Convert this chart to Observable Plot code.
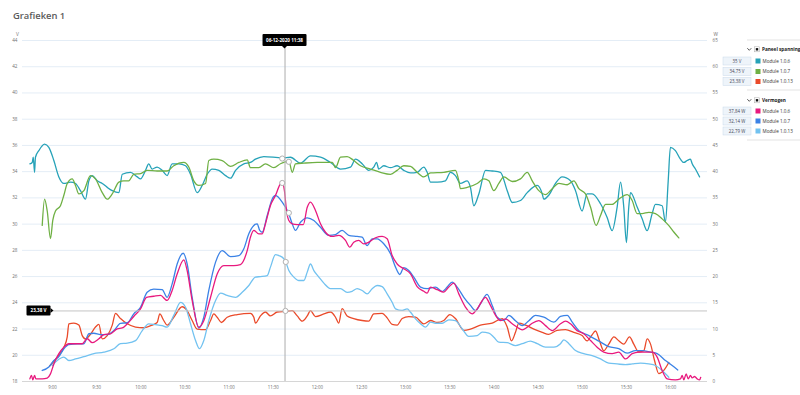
<!DOCTYPE html>
<html><head><meta charset="utf-8">
<script src="https://cdn.jsdelivr.net/npm/d3@7"></script>
<script src="https://cdn.jsdelivr.net/npm/@observablehq/plot@0.6"></script>
<style>
body{margin:0;background:#fff;font-family:"Open Sans",sans-serif;}
#wrap{position:relative;width:800px;height:395px;overflow:hidden;}
#wrap svg{position:absolute;left:0;top:0;}
</style></head><body><div id="wrap"></div>
<script>
// ---- data (time in minutes after midnight, 06-12-2020) ----
const chartTitle = "Grafieken 1";
const moduleNames = ["Module 1.0.6", "Module 1.0.7", "Module 1.0.13"];
const groupNames = ["Paneel spanning", "Vermogen"];
const timeTicks = ["9:00","9:30","10:00","10:30","11:00","11:30","12:00","12:30","13:00","13:30","14:00","14:30","15:00","15:30","16:00"];
const vTicks = [18,20,22,24,26,28,30,32,34,36,38,40,42,44];
const wTicks = [0,5,10,15,20,25,30,35,40,45,50,55,60,65];

// Paneel spanning (V)
const spanning106 = [[524.6,34.6],[526.2,34.7],[526.9,35.1],[527.8,33.95],[528.4,35.1],[530.7,35.6],[534.6,36.1],[537.5,35.85],[540.9,34.85],[544.3,33.6],[547.7,33.1],[552.2,33.2],[555.6,33.1],[559.0,32.55],[562.4,31.9],[564.7,33.3],[567.0,33.7],[570.4,33.3],[573.8,33.1],[577.2,32.8],[580.6,32.55],[585.1,32.4],[587.4,33.8],[593.0,33.95],[597.6,33.6],[599.8,33.45],[603.2,34.1],[605.4,34.6],[607.7,34.2],[611.1,34.35],[614.5,34.1],[617.9,33.7],[621.3,34.6],[625.8,34.6],[630.4,34.45],[633.8,33.8],[638.3,32.4],[641.7,32.95],[645.1,33.8],[648.5,34.2],[653.0,34.1],[657.6,33.7],[661.0,33.5],[664.4,34.1],[670.0,34.6],[674.5,34.7],[677.9,34.95],[683.6,35.15],[696.1,35.05],[701.7,35.1],[708.5,34.65],[715.3,35.2],[722.1,35.1],[728.9,34.7],[735.7,34.2],[742.5,34.35],[745.9,34.95],[750.4,34.6],[754.9,34.1],[758.3,34.35],[760.2,34.7],[761.7,34.2],[765.1,34.45],[769.7,34.3],[774.2,34.45],[778.7,34.1],[783.3,33.9],[787.8,33.95],[792.3,34.35],[794.6,33.95],[796.9,33.2],[801.4,33.2],[807.0,33.3],[810.4,33.95],[813.8,33.7],[817.2,33.1],[821.8,33.3],[824.0,32.8],[826.3,31.4],[829.7,32.3],[834.3,34.1],[838.8,34.05],[844.4,33.95],[849.0,32.55],[852.4,31.65],[858.0,31.8],[862.6,32.4],[869.4,32.95],[872.8,32.3],[873.8,31.9],[877.2,32.2],[881.8,33.1],[886.3,33.6],[892.0,33.3],[895.4,32.55],[899.9,31.0],[903.3,32.3],[906.7,32.3],[912.4,31.55],[916.9,30.5],[920.3,29.5],[923.7,31.3],[926.0,33.2],[928.2,31.3],[930.0,28.6],[931.6,31.3],[932.8,32.4],[937.3,31.3],[940.7,30.4],[944.1,29.5],[947.5,30.8],[949.7,31.5],[954.3,31.4],[956.5,30.15],[958.4,33.3],[959.9,35.85],[963.3,35.6],[966.7,34.95],[969.0,34.7],[971.3,34.85],[973.5,34.95],[974.7,34.6],[976.9,34.2],[979.7,33.6]];
const spanning107 = [[533.0,29.9],[534.6,31.9],[536.4,31.0],[538.6,28.9],[540.2,30.3],[542.0,31.0],[545.4,31.4],[547.7,32.2],[550.0,33.1],[553.4,33.45],[555.6,32.95],[557.9,32.3],[561.3,32.55],[565.8,33.7],[569.2,33.45],[573.8,32.4],[577.2,31.9],[580.6,32.3],[585.1,33.2],[588.4,33.3],[591.8,33.3],[595.2,33.8],[599.8,33.85],[604.3,34.1],[611.1,34.05],[617.9,34.05],[622.4,34.45],[629.2,34.7],[632.6,34.35],[636.0,33.3],[639.4,32.95],[644.0,33.1],[646.2,34.85],[649.6,34.95],[655.3,34.85],[661.0,34.4],[666.6,34.7],[672.3,34.9],[674.5,34.3],[680.2,34.3],[684.7,34.6],[690.4,34.3],[694.9,34.6],[700.6,34.8],[702.9,33.95],[705.1,34.6],[710.8,34.65],[719.9,34.7],[730.1,34.7],[732.3,34.3],[735.7,35.1],[740.2,35.15],[744.7,34.85],[749.3,34.45],[756.1,34.2],[762.9,33.95],[769.7,33.8],[774.2,34.1],[778.7,34.45],[783.3,34.4],[787.8,33.95],[792.3,33.6],[796.9,33.9],[805.9,33.95],[813.8,34.1],[816.1,33.3],[817.2,32.7],[821.8,32.8],[828.6,33.1],[833.1,33.45],[836.5,33.3],[839.9,32.55],[843.3,33.1],[846.7,33.6],[852.4,33.25],[858.0,33.45],[862.6,33.95],[866.0,33.3],[870.5,32.55],[875.0,32.25],[879.6,32.7],[884.1,33.1],[889.8,33.0],[894.3,33.3],[897.7,32.7],[902.2,32.3],[905.6,31.3],[909.4,29.9],[912.4,30.65],[915.8,31.5],[920.3,31.5],[924.8,31.9],[930.5,32.25],[933.9,31.8],[937.3,30.8],[940.7,30.8],[945.2,30.9],[949.7,30.8],[954.3,30.4],[958.7,29.9],[962.2,29.4],[965.6,28.95]];
const spanning1013 = [[538.2,19.2],[543.2,19.85],[547.7,20.6],[550.0,21.4],[551.1,22.4],[554.5,22.45],[557.9,22.3],[560.2,21.5],[562.4,21.25],[565.8,21.6],[569.2,22.15],[571.5,22.35],[573.8,21.25],[577.2,21.5],[580.6,22.3],[582.8,23.2],[586.2,22.8],[590.8,22.4],[596.4,22.15],[602.0,22.1],[607.7,22.3],[611.1,22.5],[612.9,23.15],[615.6,22.65],[617.9,22.3],[622.4,22.9],[628.1,23.7],[631.5,23.4],[634.9,22.65],[638.3,22.0],[644.0,21.95],[647.4,22.65],[649.6,23.15],[651.9,22.9],[654.8,22.5],[658.7,22.9],[665.5,23.1],[674.5,23.2],[676.8,22.9],[677.9,22.45],[681.3,23.0],[684.7,23.3],[688.1,23.0],[692.7,23.3],[698.3,23.35],[702.9,23.4],[706.3,23.0],[709.7,22.6],[713.1,23.0],[715.3,23.4],[718.7,22.95],[724.4,23.15],[728.9,23.3],[732.3,22.9],[734.5,22.45],[736.8,23.55],[740.2,23.0],[744.7,22.8],[750.4,22.65],[754.9,22.6],[758.3,23.15],[764.0,23.2],[767.4,22.85],[770.8,22.35],[774.2,22.3],[777.6,22.8],[782.1,22.95],[786.7,22.9],[792.3,22.4],[796.9,22.65],[801.4,22.5],[805.9,22.65],[810.0,23.1],[813.8,22.8],[819.5,21.9],[824.0,22.0],[830.8,22.3],[838.8,22.45],[845.6,22.8],[849.0,22.15],[851.9,21.1],[854.6,21.75],[856.9,22.45],[861.4,22.3],[867.1,22.0],[872.8,21.75],[877.2,21.6],[882.9,21.9],[888.6,21.95],[894.2,21.75],[899.9,21.5],[903.3,21.1],[906.3,21.5],[909.0,21.85],[911.7,21.1],[914.6,20.35],[918.0,20.85],[921.5,21.4],[924.8,21.1],[928.2,20.85],[932.1,21.4],[935.0,20.85],[938.4,20.25],[941.8,20.35],[944.1,21.25],[946.4,20.85],[949.1,19.6],[952.0,18.6],[955.4,18.85],[958.8,19.45]];

// Vermogen (W)
const vermogen106 = [[524.6,0.5],[525.7,1.15],[526.6,0.3],[527.8,1.15],[528.7,0.5],[533.0,0.5],[536.4,0.65],[538.6,1.45],[540.9,3.35],[544.3,5.3],[547.7,6.55],[551.1,7.2],[555.6,7.2],[560.2,7.2],[563.6,8.15],[567.0,7.4],[571.5,8.15],[574.9,8.95],[579.4,9.1],[584.0,10.05],[587.4,10.2],[590.8,11.0],[595.2,12.4],[599.8,13.85],[603.9,16.05],[608.8,16.25],[613.4,16.4],[617.9,15.45],[621.3,17.35],[624.7,20.5],[629.2,23.2],[631.5,21.15],[634.9,15.45],[639.4,10.35],[642.8,11.6],[647.4,16.05],[651.9,20.5],[656.4,22.1],[663.2,22.1],[667.7,22.3],[672.3,24.95],[674.5,27.5],[676.8,28.8],[680.2,28.15],[682.5,28.15],[684.7,30.05],[688.1,33.55],[691.5,35.45],[694.9,37.7],[696.1,37.9],[697.6,36.4],[699.0,32.6],[700.6,30.7],[702.9,30.05],[706.3,29.9],[710.4,29.9],[713.1,33.2],[715.3,34.2],[718.7,32.6],[722.1,30.05],[725.5,28.45],[730.1,27.65],[734.5,27.85],[739.1,26.9],[742.0,25.6],[744.7,26.55],[748.1,26.9],[751.5,26.25],[754.9,26.55],[759.5,27.4],[764.0,27.65],[767.4,27.2],[770.8,24.0],[774.2,22.4],[778.7,21.5],[783.3,20.5],[787.8,18.1],[792.3,17.2],[794.6,16.85],[796.9,18.0],[801.4,17.5],[805.9,17.05],[809.3,18.0],[812.7,18.75],[816.1,16.7],[820.7,14.15],[825.2,12.9],[828.6,13.85],[834.2,16.05],[837.6,14.5],[841.1,12.6],[844.4,11.6],[847.9,11.95],[852.4,11.0],[855.8,10.35],[859.2,9.85],[862.6,10.35],[866.0,11.1],[870.5,11.6],[875.0,10.65],[879.6,9.7],[885.2,11.0],[888.6,11.5],[892.0,11.0],[896.5,9.7],[901.0,9.1],[905.6,7.8],[910.1,6.55],[914.6,5.6],[920.3,5.3],[924.8,5.6],[929.4,4.3],[933.9,5.3],[938.4,5.6],[943.0,5.6],[947.5,5.6],[950.9,4.65],[954.3,2.1],[957.7,0.5],[963.3,0.3],[966.7,0.5],[967.9,1.15],[969.0,0.3],[970.6,1.45],[972.0,0.5],[973.5,1.15],[974.7,0.7],[976.3,0.95],[978.1,0.5],[979.7,0.3],[980.5,0.8]];
const vermogen107 = [[533.0,2.1],[537.5,2.75],[540.9,4.0],[544.3,4.75],[547.7,6.25],[551.1,7.05],[556.8,7.2],[561.3,7.2],[564.7,9.1],[568.1,9.2],[572.6,8.95],[577.2,8.95],[581.7,9.7],[586.2,11.1],[590.8,11.2],[595.2,12.9],[599.8,14.15],[604.3,17.0],[608.8,17.6],[614.5,17.5],[617.9,16.05],[621.3,18.6],[624.7,22.4],[628.8,24.45],[631.5,22.4],[634.9,16.05],[639.4,10.2],[642.8,12.25],[646.2,17.35],[650.8,22.75],[655.3,24.95],[661.0,23.8],[666.6,24.0],[670.0,25.3],[673.4,28.15],[676.8,29.75],[679.1,30.05],[680.8,28.8],[682.5,28.45],[685.9,31.65],[689.3,34.8],[691.5,35.45],[696.1,34.2],[700.6,31.95],[702.9,30.05],[705.1,28.8],[708.5,30.35],[713.1,31.2],[717.6,30.7],[722.1,29.4],[727.7,27.85],[732.3,28.0],[736.8,28.8],[741.3,27.85],[747.0,27.65],[750.4,27.5],[753.8,25.9],[757.2,27.2],[760.6,27.2],[765.1,26.25],[769.7,24.35],[773.1,21.8],[776.0,20.4],[778.7,21.7],[782.1,21.15],[785.5,19.9],[790.1,18.0],[794.6,17.7],[800.2,18.0],[804.8,17.15],[808.2,18.0],[811.6,18.95],[815.0,18.0],[819.5,16.05],[824.0,14.5],[827.4,13.5],[830.8,14.8],[835.3,16.6],[838.8,14.5],[842.2,12.25],[846.7,11.6],[850.1,12.6],[854.6,11.6],[859.2,10.65],[863.7,11.6],[868.2,12.6],[873.9,12.25],[880.7,11.3],[885.2,12.4],[889.8,12.6],[893.2,11.3],[897.7,9.7],[904.5,8.75],[911.3,7.7],[918.0,6.65],[924.8,6.25],[930.5,5.4],[936.1,5.9],[940.7,5.9],[946.4,5.6],[950.9,5.3],[956.5,4.0],[961.1,3.05],[964.9,2.2]];
const vermogen1013 = [[539.8,3.05],[543.2,4.0],[547.7,4.65],[551.1,4.0],[555.6,4.3],[561.3,4.75],[568.1,5.3],[574.9,5.6],[581.7,6.25],[586.2,7.2],[590.8,7.3],[596.4,7.8],[601.0,9.7],[605.4,11.0],[610.0,10.85],[614.5,10.65],[617.9,10.35],[622.4,12.6],[627.0,15.1],[630.4,14.15],[633.8,11.0],[637.2,7.8],[639.9,6.25],[642.8,7.8],[646.2,11.6],[650.8,15.45],[654.2,16.85],[658.7,16.4],[664.4,16.05],[668.9,17.0],[673.4,18.3],[677.9,19.9],[681.3,20.0],[685.9,20.2],[688.1,21.8],[691.5,24.2],[693.8,24.0],[697.2,23.4],[698.5,22.75],[700.6,21.15],[704.0,19.9],[707.4,19.25],[710.8,19.25],[713.1,20.85],[715.3,22.4],[717.6,21.15],[721.0,19.9],[724.4,18.75],[728.9,17.7],[735.7,17.7],[740.2,17.0],[743.6,17.2],[747.0,17.7],[750.4,17.35],[753.8,16.7],[757.2,17.7],[760.6,18.3],[764.0,18.1],[767.4,16.7],[770.8,15.1],[773.1,13.85],[777.6,13.55],[781.0,13.85],[783.3,13.2],[786.7,11.95],[790.1,11.0],[793.5,10.35],[796.9,11.3],[800.2,11.1],[804.8,11.1],[809.3,11.75],[813.8,11.6],[818.4,10.05],[822.9,8.6],[828.6,8.75],[832.0,9.4],[836.5,9.2],[839.9,8.45],[843.3,7.5],[849.0,7.4],[854.6,6.85],[859.2,7.2],[864.8,7.7],[869.4,7.2],[875.0,6.55],[880.7,6.55],[885.2,7.2],[887.5,7.95],[890.9,7.2],[895.4,5.9],[901.0,5.3],[906.7,4.95],[912.4,4.3],[918.0,3.5],[923.7,3.35],[929.4,3.2],[933.9,3.35],[939.6,3.5],[945.2,3.35],[949.7,3.05],[954.3,2.1],[958.8,0.8]];

// cursor (hover) state
const cursorDate = "06-12-2020";
const cursorTime = "11:38";
const cursorSpanning = [35, 34.75, 23.38];
const cursorVermogen = [37.84, 32.14, 22.79];
const cursorSpanningTimes = [696.1, 700.6, 698.3];
const cursorVermogenTimes = [696.1, 700.6, 698.5];
const spanningColors = ["#26a2b8", "#6fb044", "#ea4a2a"];
const vermogenColors = ["#e8197e", "#3b82e6", "#72c2f0"];

// ---- build ----
const toMin = s => { const [h, m] = s.split(":").map(Number); return h * 60 + m; };
const xTicks = timeTicks.map(toMin);
const tickLabel = new Map(xTicks.map((m, i) => [m, timeTicks[i]]));
const vMin = vTicks[0], vMax = vTicks[vTicks.length - 1];
const wMax = wTicks[wTicks.length - 1];
const wToV = w => vMin + w * (vMax - vMin) / wMax;

const rows = [];
[spanning106, spanning107, spanning1013].forEach((arr, i) =>
  arr.forEach(([t, v]) => rows.push({t, y: v, s: "V" + i})));
[vermogen106, vermogen107, vermogen1013].forEach((arr, i) =>
  arr.forEach(([t, w]) => rows.push({t, y: wToV(w), s: "W" + i})));
const colorMap = {V0: spanningColors[0], V1: spanningColors[1], V2: spanningColors[2],
                  W0: vermogenColors[0], W1: vermogenColors[1], W2: vermogenColors[2]};
const order = ["V0","V1","V2","W2","W1","W0"];

const cursorDots = [
  ...cursorSpanning.map((v, i) => ({t: cursorSpanningTimes[i], y: v})),
  ...cursorVermogen.map((w, i) => ({t: cursorVermogenTimes[i], y: wToV(w)}))
];

const chart = Plot.plot({
  width: 800, height: 395,
  marginTop: 40, marginBottom: 14, marginLeft: 22, marginRight: 93,
  x: {domain: [519.6, 985.1], axis: null},
  y: {domain: [vMin, vMax], axis: null},
  style: {fontFamily: "'Open Sans', sans-serif", background: "transparent", overflow: "visible"},
  marks: [
    Plot.ruleY(vTicks.slice(1), {stroke: "#e4edf6", strokeWidth: 1}),
    Plot.ruleY([vMin], {stroke: "#d6d6d6", strokeWidth: 1}),
    Plot.axisY({anchor: "left", ticks: vTicks, tickSize: 0, tickPadding: 5, fontSize: 4.6, fill: "#707070", label: null}),
    Plot.axisY({anchor: "right", ticks: wTicks.map(wToV), tickFormat: v => String(Math.round((v - vMin) * wMax / (vMax - vMin))), tickSize: 0, tickPadding: 5, fontSize: 4.6, fill: "#707070", label: null}),
    Plot.axisX({anchor: "bottom", ticks: xTicks, tickFormat: d => tickLabel.get(d), tickSize: 0, tickPadding: 4, fontSize: 4.4, fill: "#707070", label: null}),
    Plot.text(["V"], {frameAnchor: "top-left", dx: -6.5, dy: -7.5, fontSize: 4.8, fill: "#707070"}),
    Plot.text(["W"], {frameAnchor: "top-right", dx: 6, dy: -7.5, textAnchor: "start", fontSize: 4.8, fill: "#707070"}),
    ...order.map(s => Plot.line(rows.filter(r => r.s === s), {x: "t", y: "y", stroke: colorMap[s], strokeWidth: 1.3, curve: "monotone-x"})),
    Plot.ruleX([toMin(cursorTime)], {y1: vMin, y2: vMax - 0.45, stroke: "#b4b4b4", strokeWidth: 1.1}),
    Plot.ruleY([cursorSpanning[2]], {x1: 525.5, x2: 985.1, stroke: "#c4c4c4", strokeWidth: 1}),
    Plot.dot(cursorDots, {x: "t", y: "y", r: 2.6, fill: "white", stroke: "#b0b0b0", strokeWidth: 1})
  ]
});
const wrap = document.getElementById("wrap");
wrap.appendChild(chart);

// ---- overlay: title, tooltips, legend ----
const sx = chart.scale("x"), sy = chart.scale("y");
const ov = d3.select(wrap).append("svg").attr("width", 800).attr("height", 395)
  .style("font-family", "'Open Sans', sans-serif");

ov.append("text").attr("x", 13).attr("y", 18.5).attr("font-size", 9.4).attr("font-weight", 600).attr("fill", "#5a5a5a").text(chartTitle);

// top tooltip (time)
const cx = sx.apply(toMin(cursorTime));
const tt = ov.append("g");
tt.append("rect").attr("x", cx - 22).attr("y", 34).attr("width", 44).attr("height", 12).attr("rx", 1).attr("fill", "#000");
tt.append("path").attr("d", `M${cx - 2.5},46 L${cx},48.5 L${cx + 2.5},46 Z`).attr("fill", "#000");
tt.append("text").attr("x", cx).attr("y", 41.6).attr("text-anchor", "middle").attr("font-size", 4.6)
  .attr("font-weight", "bold").attr("fill", "#fff").text(`${cursorDate} ${cursorTime}`);

// left tooltip (value)
const cy = sy.apply(cursorSpanning[2]);
const fmt = v => String(v).replace(".", ",");
const lt = ov.append("g");
lt.append("rect").attr("x", 26.5).attr("y", cy - 5).attr("width", 24).attr("height", 10).attr("rx", 1).attr("fill", "#000");
lt.append("path").attr("d", `M50.5,${cy - 2.5} L53.5,${cy} L50.5,${cy + 2.5} Z`).attr("fill", "#000");
lt.append("text").attr("x", 38.5).attr("y", cy + 1.6).attr("text-anchor", "middle").attr("font-size", 4.6)
  .attr("font-weight", "bold").attr("fill", "#fff").text(`${fmt(cursorSpanning[2])} V`);

// legend
[40, 90, 140].forEach(y => ov.append("line").attr("x1", 747).attr("x2", 800).attr("y1", y).attr("y2", y).attr("stroke", "#dcdcdc").attr("stroke-width", 0.8));
const groups = [
  {name: groupNames[0], y: 49.5, vals: cursorSpanning, unit: "V", colors: spanningColors, rowsY: [61, 71.5, 81.5]},
  {name: groupNames[1], y: 100.5, vals: cursorVermogen, unit: "W", colors: vermogenColors, rowsY: [111, 121, 131]}
];
groups.forEach(g => {
  const G = ov.append("g");
  G.append("path").attr("d", `M747.3,${g.y - 1.3} L749.3,${g.y + 0.8} L751.3,${g.y - 1.3}`).attr("fill", "none").attr("stroke", "#333").attr("stroke-width", 0.8);
  G.append("rect").attr("x", 754.5).attr("y", g.y - 2.7).attr("width", 5).attr("height", 5).attr("fill", "#fff").attr("stroke", "#aaa").attr("stroke-width", 0.5);
  G.append("rect").attr("x", 755.8).attr("y", g.y - 1.4).attr("width", 2.4).attr("height", 2.4).attr("fill", "#111");
  G.append("text").attr("x", 762).attr("y", g.y + 1.6).attr("font-size", 4.7).attr("font-weight", "bold").attr("fill", "#222").text(g.name);
  g.rowsY.forEach((ry, i) => {
    G.append("rect").attr("x", 723).attr("y", ry - 4).attr("width", 28).attr("height", 8).attr("fill", "#eef4fa").attr("stroke", "#c9d9ea").attr("stroke-width", 0.5);
    G.append("text").attr("x", 737).attr("y", ry + 1.6).attr("text-anchor", "middle").attr("font-size", 4.4).attr("fill", "#445").text(`${fmt(g.vals[i])} ${g.unit}`);
    G.append("rect").attr("x", 755.5).attr("y", ry - 2.5).attr("width", 5).attr("height", 5).attr("fill", g.colors[i]);
    G.append("text").attr("x", 762.5).attr("y", ry + 1.6).attr("font-size", 4.6).attr("fill", "#333").text(moduleNames[i]);
  });
});
</script>
</body></html>
